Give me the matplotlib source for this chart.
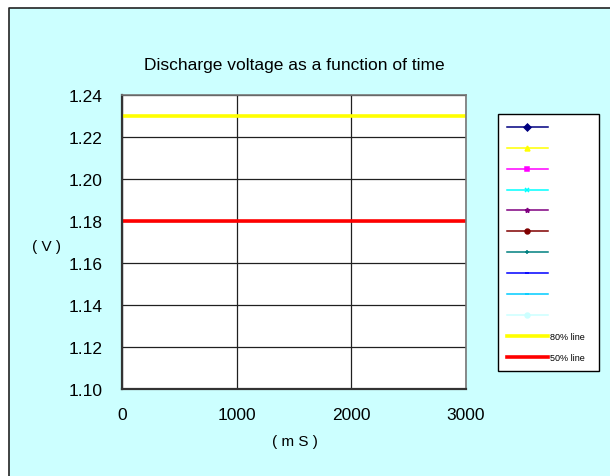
import matplotlib.pyplot as plt
from matplotlib.patches import Rectangle
from matplotlib.lines import Line2D

plt.rcParams['font.family'] = ['Liberation Sans', 'Noto Sans CJK JP', 'DejaVu Sans']

# reference lines (voltage levels) over the time span
time_ms = [0, 3000]
line_80 = [1.23, 1.23]
line_50 = [1.18, 1.18]

# the ten measurement series are empty in the chart
series_colors = ['#000080', '#FFFF00', '#FF00FF', '#00FFFF', '#800080',
                 '#800000', '#008080', '#0000FF', '#00CCFF', '#CCFFFF']
series_markers = ['D', '^', 's', 'x', '*', 'o', '+', '_', '_', 'o']
series_data = [[] for _ in series_colors]

x_ticks = [0, 1000, 2000, 3000]
y_ticks = [1.10, 1.12, 1.14, 1.16, 1.18, 1.20, 1.22, 1.24]

fig = plt.figure(figsize=(6.1, 4.77), dpi=100)
fig.patch.set_facecolor('white')

# cyan chart area, border only on top and left (rest runs off the image)
x0, y0 = 8.5 / 610, 1 - 8.5 / 477
fig.patches.append(Rectangle((x0, 0), 1 - x0, y0, transform=fig.transFigure,
                             facecolor='#CCFFFF', edgecolor='none', zorder=-10))
fig.lines.append(Line2D([x0, x0, 1], [0, y0, y0], transform=fig.transFigure,
                        color='#222222', linewidth=1.2))

ax = fig.add_axes([122 / 610, 1 - 390 / 477, 344 / 610, 294 / 477])
ax.set_facecolor('white')

handles = []
for c, m, d in zip(series_colors, series_markers, series_data):
    h, = ax.plot(d, d, color=c, marker=m, markersize=3.5, linewidth=1.1, markeredgewidth=1.1)
    handles.append(h)

h80, = ax.plot(time_ms, line_80, color='#FFFF00', linewidth=2.6)
h50, = ax.plot(time_ms, line_50, color='#FF0000', linewidth=2.6)
handles += [h80, h50]
labels = [''] * len(series_colors) + ['80% line', '50% line']

ax.set_xlim(0, 3000)
ax.set_ylim(1.10, 1.24)
ax.set_xticks(x_ticks)
ax.set_yticks(y_ticks)
ax.set_yticklabels([f'{v:.2f}' for v in y_ticks])
ax.grid(True, color='#202020', linewidth=0.9)
ax.tick_params(length=0, labelsize=12.5)
ax.tick_params(axis='y', pad=14)
ax.tick_params(axis='x', pad=13)

for s in ['left', 'bottom']:
    ax.spines[s].set_color('#333333')
    ax.spines[s].set_linewidth(1.6)
for s in ['top', 'right']:
    ax.spines[s].set_color('#777777')
    ax.spines[s].set_linewidth(1.2)

ax.set_title('Discharge voltage as a function of time', fontsize=12.5, pad=19)
fig.text(46 / 610, 1 - 247 / 477, '( V )', ha='center', va='center', fontsize=11)
fig.text(295 / 610, 1 - 442 / 477, '( m S )', ha='center', va='center', fontsize=11)

leg = fig.legend(handles, labels, loc='upper left',
                 bbox_to_anchor=(498 / 610, 1 - 115 / 477, 101 / 610, 0.0001),
                 mode='expand', fontsize=6.5, labelspacing=1.32, handlelength=4.5,
                 handletextpad=0.3, borderpad=1.0, fancybox=False, framealpha=1,
                 edgecolor='black', borderaxespad=0)
leg.get_frame().set_linewidth(1.0)

fig.savefig('out.png', dpi=100, facecolor=fig.get_facecolor())
